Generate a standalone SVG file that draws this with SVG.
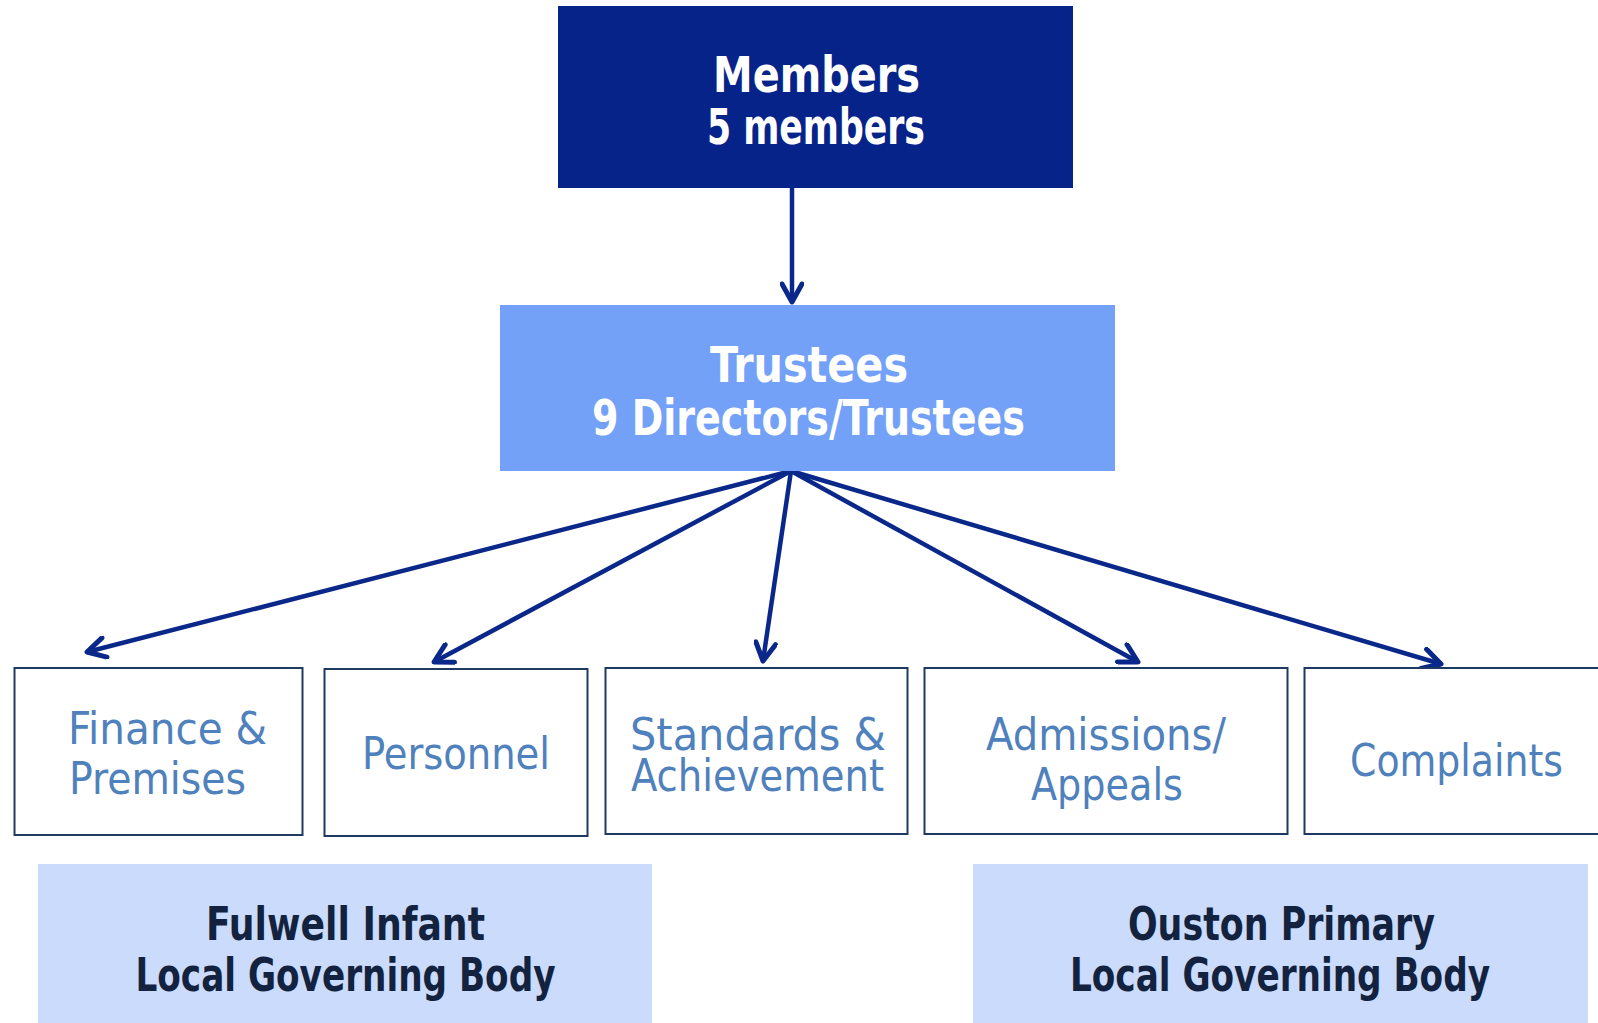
<svg xmlns="http://www.w3.org/2000/svg" width="1598" height="1023" viewBox="0 0 1598 1023">
<style>
.hdr{font-family:"DejaVu Sans Condensed","DejaVu Sans",sans-serif;font-weight:bold;fill:#ffffff;font-size:50px;text-anchor:middle}
.com{font-family:"DejaVu Sans Condensed","DejaVu Sans",sans-serif;font-weight:normal;fill:#4F81BD;font-size:45px}
.lgb{font-family:"DejaVu Sans Condensed","DejaVu Sans",sans-serif;font-weight:bold;fill:#13233F;font-size:47px;text-anchor:middle}
.cbox{fill:#ffffff;stroke:#1F3A60;stroke-width:2}
.conn{stroke:#0A278A;stroke-width:4.5;fill:none}
</style>
<defs>
<marker id="arr" markerUnits="userSpaceOnUse" viewBox="0 0 24 24" refX="21" refY="12" markerWidth="24" markerHeight="24" orient="auto">
<path d="M3,2 L21,12 L3,22" fill="none" stroke="#0A278A" stroke-width="5" stroke-linecap="round" stroke-linejoin="round"/>
</marker>
</defs>
<rect width="1598" height="1023" fill="#ffffff"/>
<g id="connectors">
<line class="conn" x1="792" y1="188" x2="792" y2="302" marker-end="url(#arr)"/>
<line class="conn" x1="791" y1="471" x2="87" y2="652" marker-end="url(#arr)"/>
<line class="conn" x1="791" y1="471" x2="434" y2="662" marker-end="url(#arr)"/>
<line class="conn" x1="791" y1="471" x2="763" y2="661" marker-end="url(#arr)"/>
<line class="conn" x1="791" y1="471" x2="1138" y2="662" marker-end="url(#arr)"/>
<line class="conn" x1="791" y1="471" x2="1441" y2="664" marker-end="url(#arr)"/>
</g>
<g id="members">
<rect x="558" y="6" width="515" height="182" fill="#06238A"/>
<text class="hdr" x="816.5" y="92" font-size="46" textLength="207" lengthAdjust="spacingAndGlyphs">Members</text>
<text class="hdr" x="816" y="144" font-size="46" textLength="218" lengthAdjust="spacingAndGlyphs">5 members</text>
</g>
<g id="trustees">
<rect x="500" y="305" width="615" height="166" fill="#74A1F8"/>
<text class="hdr" x="809" y="382" textLength="198" lengthAdjust="spacingAndGlyphs">Trustees</text>
<text class="hdr" x="808.5" y="435" textLength="433" lengthAdjust="spacingAndGlyphs">9 Directors/Trustees</text>
</g>
<g id="finance">
<rect class="cbox" x="14.5" y="668" width="288" height="167"/>
<text class="com" x="68" y="744" textLength="199" lengthAdjust="spacingAndGlyphs">Finance &amp;</text>
<text class="com" x="69" y="794" textLength="177" lengthAdjust="spacingAndGlyphs">Premises</text>
</g>
<g id="personnel">
<rect class="cbox" x="324.5" y="669" width="263" height="167"/>
<text class="com" x="456" y="769" text-anchor="middle" textLength="188" lengthAdjust="spacingAndGlyphs">Personnel</text>
</g>
<g id="standards">
<rect class="cbox" x="605.5" y="668" width="302" height="166"/>
<text class="com" x="630" y="750" font-size="40" textLength="256" lengthAdjust="spacingAndGlyphs">Standards &amp;</text>
<text class="com" x="631" y="791" font-size="40" textLength="253" lengthAdjust="spacingAndGlyphs">Achievement</text>
</g>
<g id="admissions">
<rect class="cbox" x="924.5" y="668" width="363" height="166"/>
<text class="com" x="1106" y="750" text-anchor="middle" textLength="240" lengthAdjust="spacingAndGlyphs">Admissions/</text>
<text class="com" x="1107" y="800" text-anchor="middle" textLength="152" lengthAdjust="spacingAndGlyphs">Appeals</text>
</g>
<g id="complaints">
<rect class="cbox" x="1304.5" y="668" width="310" height="166"/>
<text class="com" x="1456.5" y="776" text-anchor="middle" textLength="213" lengthAdjust="spacingAndGlyphs">Complaints</text>
</g>
<g id="fulwell">
<rect x="38" y="864" width="614" height="159" fill="#CADBFB"/>
<text class="lgb" x="345.5" y="940" textLength="279" lengthAdjust="spacingAndGlyphs">Fulwell Infant</text>
<text class="lgb" x="345.5" y="991" textLength="420" lengthAdjust="spacingAndGlyphs">Local Governing Body</text>
</g>
<g id="ouston">
<rect x="973" y="864" width="615" height="159" fill="#CADBFB"/>
<text class="lgb" x="1281.5" y="940" textLength="307" lengthAdjust="spacingAndGlyphs">Ouston Primary</text>
<text class="lgb" x="1280" y="991" textLength="420" lengthAdjust="spacingAndGlyphs">Local Governing Body</text>
</g>
</svg>
